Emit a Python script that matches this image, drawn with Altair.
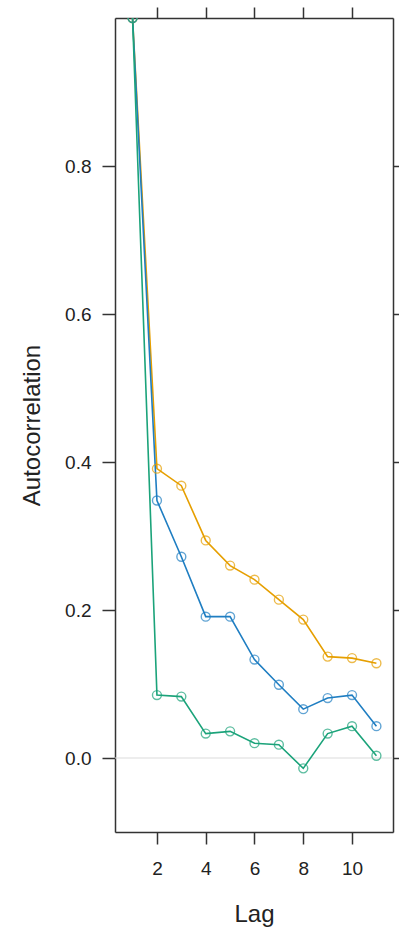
import altair as alt
import pandas as pd

lags = [1, 2, 3, 4, 5, 6, 7, 8, 9, 10, 11]
series_names = ["orange", "blue", "green"]
orange_vals = [1.0, 0.391, 0.368, 0.294, 0.260, 0.241, 0.214, 0.187, 0.137, 0.135, 0.128]
blue_vals = [1.0, 0.348, 0.272, 0.191, 0.191, 0.133, 0.099, 0.066, 0.081, 0.085, 0.043]
green_vals = [1.0, 0.085, 0.083, 0.033, 0.036, 0.020, 0.018, -0.014, 0.033, 0.043, 0.003]
colors = ["#E69F00", "#1F7EC2", "#1BA37A"]
x_ticks = [2, 4, 6, 8, 10]
y_ticks = [0.0, 0.2, 0.4, 0.6, 0.8]

rows = []
for name, vals in zip(series_names, [orange_vals, blue_vals, green_vals]):
    for l, v in zip(lags, vals):
        rows.append({"lag": l, "acf": v, "series": name})
df = pd.DataFrame(rows)

xscale = alt.Scale(domain=[0.28, 11.68], nice=False, zero=False)
yscale = alt.Scale(domain=[-0.1, 1.0], nice=False, zero=False)
cscale = alt.Scale(domain=series_names, range=colors)

font = "Liberation Sans"
dark = "#333333"

zero = alt.Chart(pd.DataFrame({"z": [0.0]})).mark_rule(
    color="#dcdcdc", strokeWidth=1.2
).encode(y=alt.Y("z:Q", scale=yscale, axis=None))

lines = alt.Chart(df).mark_line(strokeWidth=1.6, clip=True).encode(
    x=alt.X("lag:Q", scale=xscale, title="Lag",
            axis=alt.Axis(orient="bottom", values=x_ticks, format="d", grid=False,
                          domain=True, domainColor=dark, domainWidth=1.5,
                          tickSize=12, tickWidth=1.5, tickColor=dark,
                          labelFontSize=19, labelPadding=15, labelColor="#222",
                          titleFontSize=24, titleFontWeight="normal", titlePadding=24,
                          titleColor="#222", labelFont=font, titleFont=font)),
    y=alt.Y("acf:Q", scale=yscale, title="Autocorrelation",
            axis=alt.Axis(orient="left", values=y_ticks, format=".1f", grid=False,
                          domain=True, domainColor=dark, domainWidth=1.5,
                          tickSize=13, tickWidth=1.5, tickColor=dark,
                          labelFontSize=19, labelPadding=11, labelColor="#222",
                          titleFontSize=24, titleFontWeight="normal", titlePadding=20,
                          titleColor="#222", labelFont=font, titleFont=font)),
    color=alt.Color("series:N", scale=cscale, legend=None),
    detail="series:N",
)

points = alt.Chart(df).mark_point(shape="circle", filled=False, size=80,
                                  strokeWidth=1.4, clip=True).encode(
    x=alt.X("lag:Q", scale=xscale, axis=None),
    y=alt.Y("acf:Q", scale=yscale, axis=None),
    color=alt.Color("series:N", scale=cscale, legend=None),
)

frame_axes = alt.Chart(df).mark_point(opacity=0).encode(
    x=alt.X("lag:Q", scale=xscale, title=None,
            axis=alt.Axis(orient="top", values=x_ticks, labels=False, grid=False,
                          domain=True, domainColor=dark, domainWidth=1.5,
                          tickSize=11, tickWidth=1.5, tickColor=dark)),
    y=alt.Y("acf:Q", scale=yscale, title=None,
            axis=alt.Axis(orient="right", values=y_ticks, labels=False, grid=False,
                          domain=True, domainColor=dark, domainWidth=1.5,
                          tickSize=11, tickWidth=1.5, tickColor=dark)),
)

chart = alt.layer(zero, lines, points, frame_axes).resolve_axis(
    x="independent", y="independent"
).properties(
    width=278, height=814,
    autosize=alt.AutoSizeParams(type="none"),
    padding={"left": 115, "top": 18, "right": 6, "bottom": 96},
).configure_view(stroke=None).configure(background="white")

chart.save("out.html", embed_options={"renderer": "svg", "actions": False})
